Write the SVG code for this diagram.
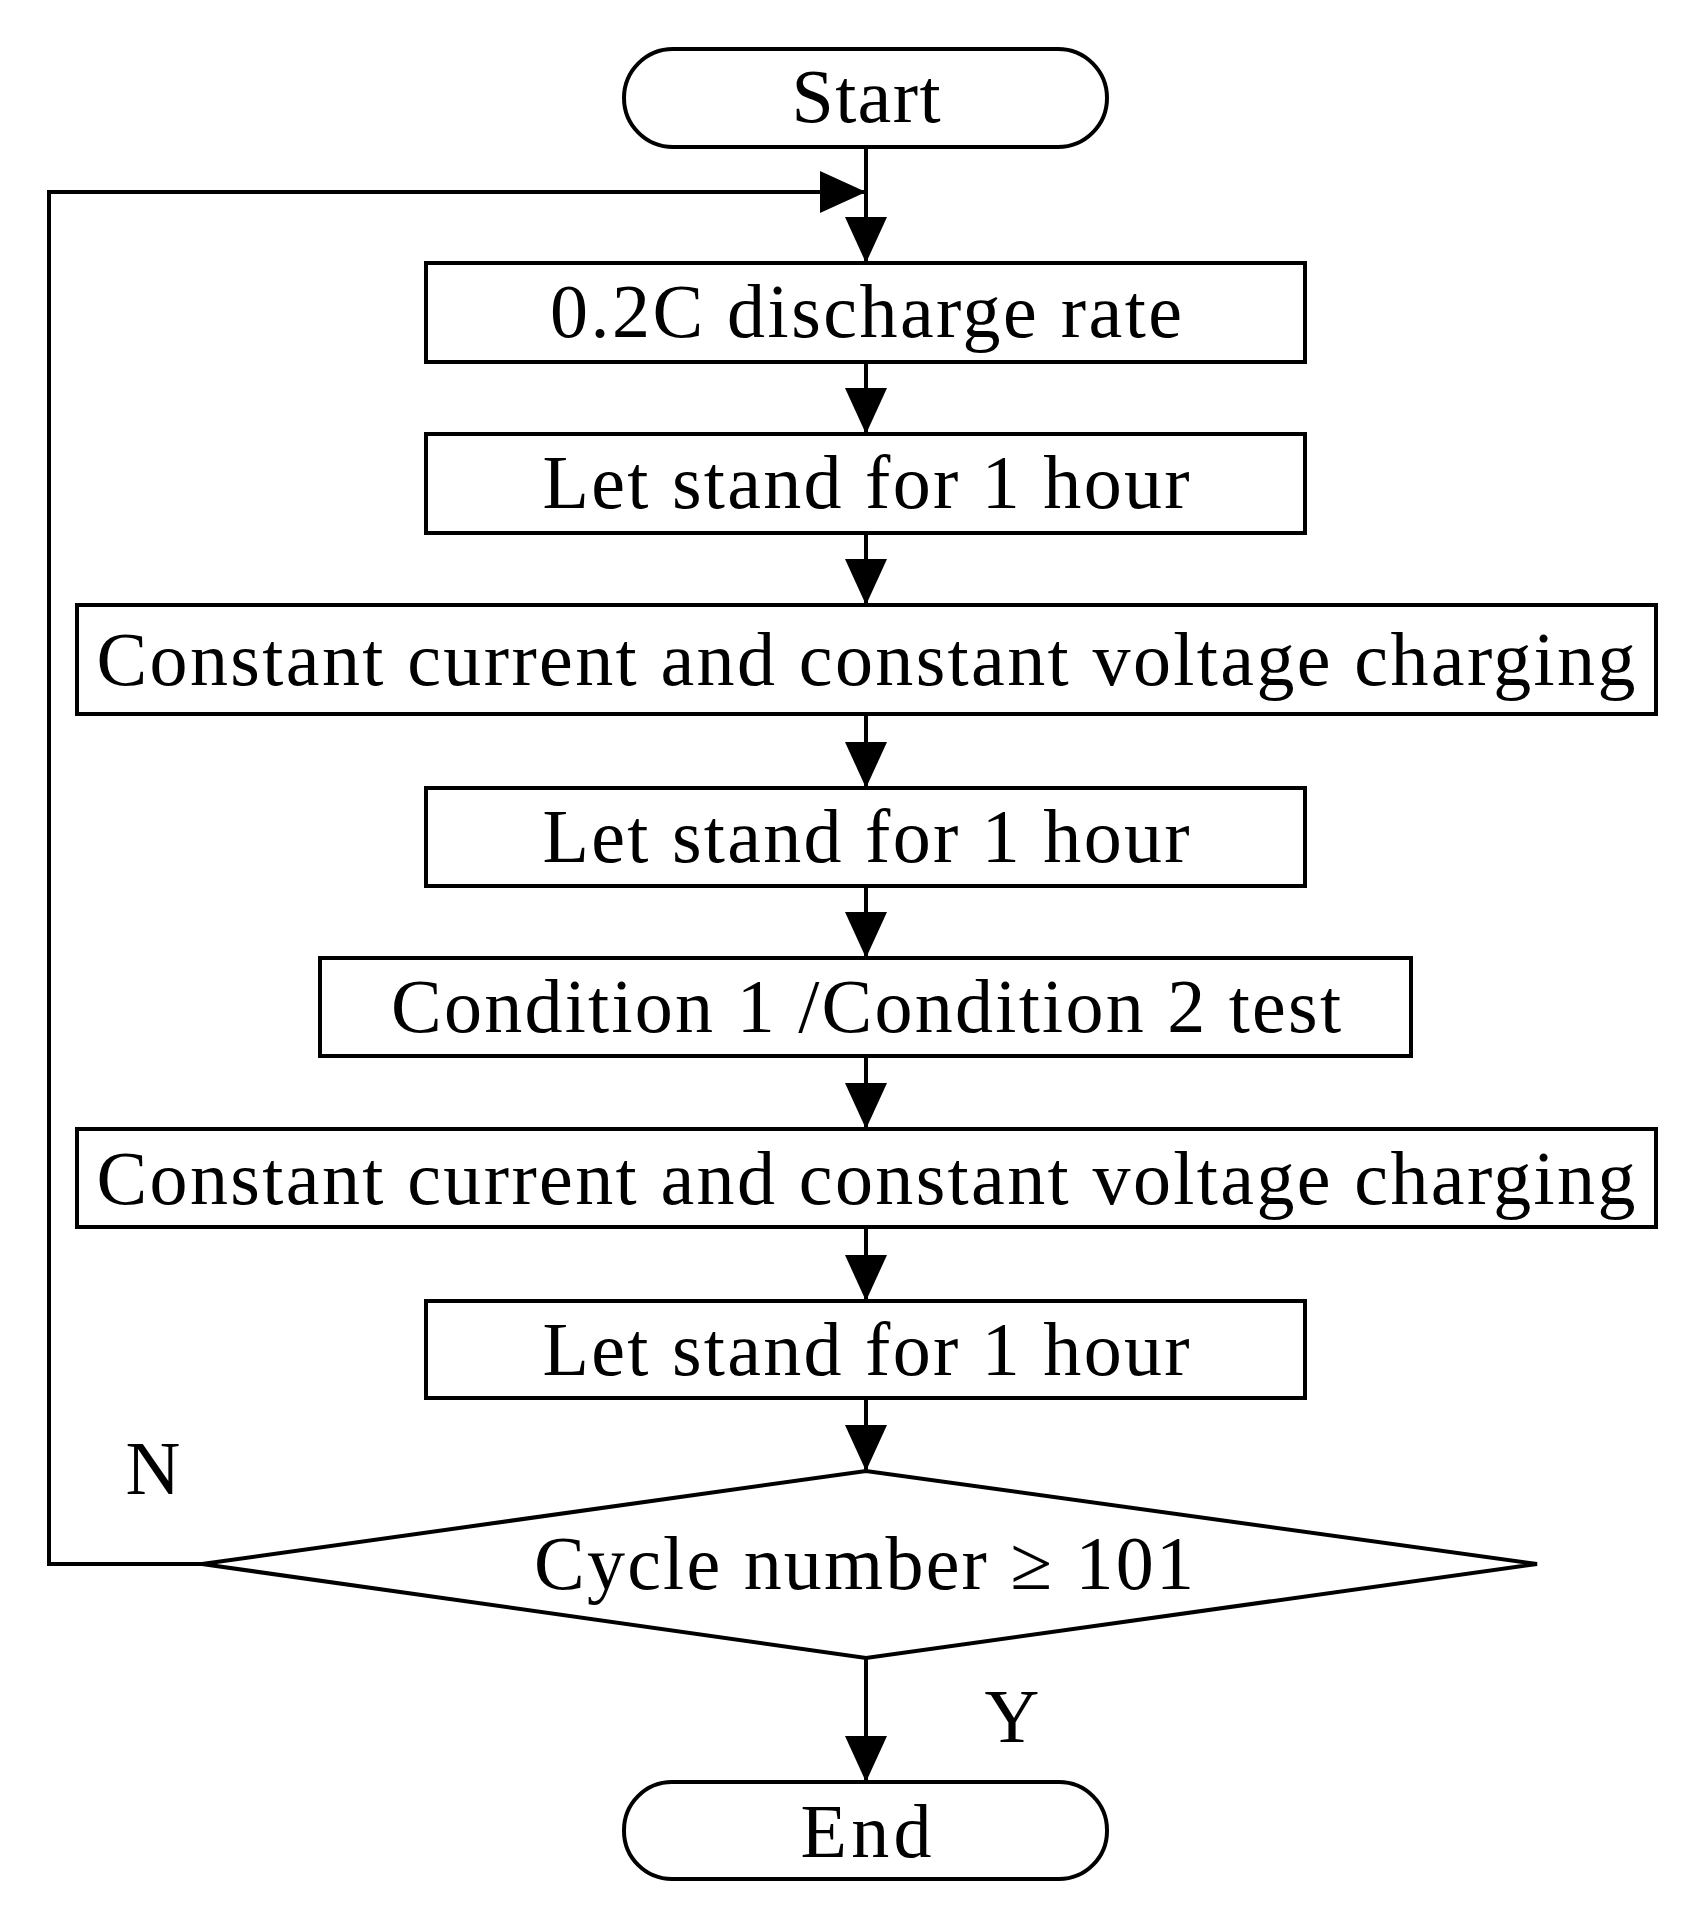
<svg xmlns="http://www.w3.org/2000/svg" width="1691" height="1917" viewBox="0 0 1691 1917">
<style>
.s{fill:#fff;stroke:#000;stroke-width:4}
.c{fill:none;stroke:#000;stroke-width:4}
text{font-family:"Liberation Serif",serif;font-size:76px;text-anchor:middle;fill:#000}
</style>
<defs>
<marker id="b" markerWidth="46" markerHeight="46" refX="46" refY="23" orient="auto" markerUnits="userSpaceOnUse" viewBox="0 0 46 46"><path d="M0,2L46,23L0,44z"/></marker></defs>
<g id="connectors">
<path class="c" d="M866,147V263" marker-end="url(#b)"/>
<path class="c" d="M866,362V434" marker-end="url(#b)"/>
<path class="c" d="M866,533V605" marker-end="url(#b)"/>
<path class="c" d="M866,714V788" marker-end="url(#b)"/>
<path class="c" d="M866,886V958" marker-end="url(#b)"/>
<path class="c" d="M866,1056V1129" marker-end="url(#b)"/>
<path class="c" d="M866,1227V1301" marker-end="url(#b)"/>
<path class="c" d="M866,1398V1471" marker-end="url(#b)"/>
<path class="c" d="M866,1658V1782" marker-end="url(#b)"/>
<path class="c" d="M202,1564H49V192H866" marker-end="url(#b)"/>
<text x="153" y="1494">N</text>
<text x="1012" y="1742">Y</text>
</g>
<g id="start"><rect class="s" x="624" y="49" width="483" height="98" rx="49"/><text x="866" y="122" textLength="149" lengthAdjust="spacing">Start</text></g>
<g id="n1"><rect class="s" x="426" y="263" width="879" height="99"/><text x="866" y="337" textLength="632" lengthAdjust="spacing">0.2C discharge rate</text></g>
<g id="n2"><rect class="s" x="426" y="434" width="879" height="99"/><text x="866" y="508" textLength="647" lengthAdjust="spacing">Let stand for 1 hour</text></g>
<g id="n3"><rect class="s" x="77" y="605" width="1579" height="109"/><text x="866" y="685" textLength="1539" lengthAdjust="spacing">Constant current and constant voltage charging</text></g>
<g id="n4"><rect class="s" x="426" y="788" width="879" height="98"/><text x="866" y="862" textLength="647" lengthAdjust="spacing">Let stand for 1 hour</text></g>
<g id="n5"><rect class="s" x="320" y="958" width="1091" height="98"/><text x="866" y="1032" textLength="950" lengthAdjust="spacing">Condition 1 /Condition 2 test</text></g>
<g id="n6"><rect class="s" x="77" y="1129" width="1579" height="98"/><text x="866" y="1204" textLength="1539" lengthAdjust="spacing">Constant current and constant voltage charging</text></g>
<g id="n7"><rect class="s" x="426" y="1301" width="879" height="97"/><text x="866" y="1375" textLength="647" lengthAdjust="spacing">Let stand for 1 hour</text></g>
<g id="d"><polygon class="s" points="202,1564 866,1471 1537,1564 866,1658"/><text x="864" y="1589" textLength="660" lengthAdjust="spacing">Cycle number ≥ 101</text></g>
<g id="end"><rect class="s" x="624" y="1782" width="483" height="97" rx="48"/><text x="866" y="1857" textLength="131" lengthAdjust="spacing">End</text></g>
</svg>
